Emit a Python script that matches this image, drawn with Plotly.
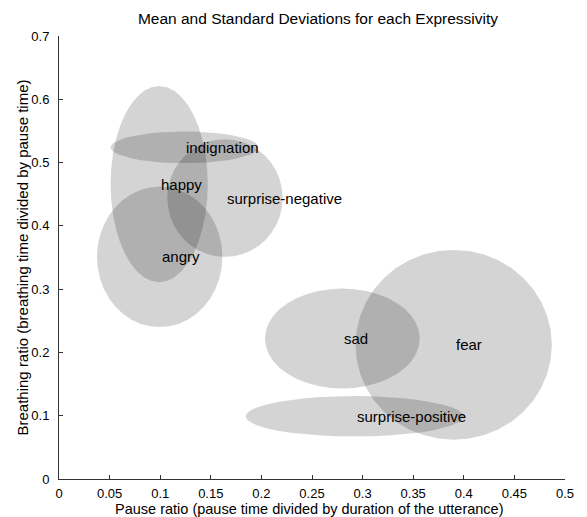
import numpy as np
import plotly.graph_objects as go

names = ["happy", "indignation", "surprise-negative", "angry", "sad", "fear", "surprise-positive"]
mean_pause = [0.099, 0.124, 0.164, 0.0995, 0.280, 0.390, 0.292]
mean_breath = [0.466, 0.524, 0.444, 0.351, 0.222, 0.212, 0.099]
std_pause = [0.048, 0.073, 0.057, 0.062, 0.0765, 0.097, 0.1075]
std_breath = [0.155, 0.025, 0.093, 0.111, 0.079, 0.150, 0.032]

x_ticks = [0, 0.05, 0.1, 0.15, 0.2, 0.25, 0.3, 0.35, 0.4, 0.45, 0.5]
x_tick_text = ["0", "0.05", "0.1", "0.15", "0.2", "0.25", "0.3", "0.35", "0.4", "0.45", "0.5"]
y_ticks = [0, 0.1, 0.2, 0.3, 0.4, 0.5, 0.6, 0.7]
y_tick_text = ["0", "0.1", "0.2", "0.3", "0.4", "0.5", "0.6", "0.7"]

FONT = "Liberation Sans, Arial, sans-serif"
t = np.linspace(0, 2 * np.pi, 41)

fig = go.Figure()
for n, cx, cy, sx, sy in zip(names, mean_pause, mean_breath, std_pause, std_breath):
    fig.add_trace(go.Scatter(
        x=cx + sx * np.cos(t), y=cy + sy * np.sin(t),
        mode="lines", fill="toself", fillcolor="rgba(0,0,0,0.17)",
        line=dict(width=0), hoverinfo="skip", showlegend=False, name=n))
    fig.add_annotation(x=cx, y=cy, text=n, showarrow=False, xanchor="left",
                       yanchor="middle", font=dict(family=FONT, size=15, color="black"))

# axis titles
fig.add_annotation(xref="paper", yref="paper", x=0.4946, y=0, yshift=-30,
                   xanchor="center", yanchor="middle", showarrow=False,
                   text="Pause ratio (pause time divided by duration of the utterance)",
                   font=dict(family=FONT, size=14.5, color="black"))
fig.add_annotation(xref="paper", yref="paper", x=0, y=0.5, xshift=-37,
                   xanchor="center", yanchor="middle", showarrow=False, textangle=-90,
                   text="Breathing ratio (breathing time divided by pause time)",
                   font=dict(family=FONT, size=15, color="black"))

fig.update_layout(
    width=587, height=517,
    margin=dict(l=51, r=29.5, t=28, b=46),
    paper_bgcolor="white", plot_bgcolor="white",
    font=dict(family=FONT, size=13, color="black"),
    title=dict(text="Mean and Standard Deviations for each Expressivity",
               x=310 / 587, xanchor="center", y=1 - 11 / 517, yanchor="middle",
               font=dict(family=FONT, size=15.5, color="black")),
    xaxis=dict(range=[0, 0.5], tickvals=x_ticks, ticktext=x_tick_text,
               ticks="inside", ticklen=4, tickcolor="#333", showline=True,
               linecolor="#333", linewidth=1, showgrid=False, zeroline=False,
               ticklabelstandoff=2),
    yaxis=dict(range=[0, 0.7], tickvals=y_ticks, ticktext=y_tick_text,
               ticks="inside", ticklen=4, tickcolor="#333", showline=True,
               linecolor="#333", linewidth=1, showgrid=False, zeroline=False,
               ticklabelstandoff=6),
)

fig.write_html("out.html")
